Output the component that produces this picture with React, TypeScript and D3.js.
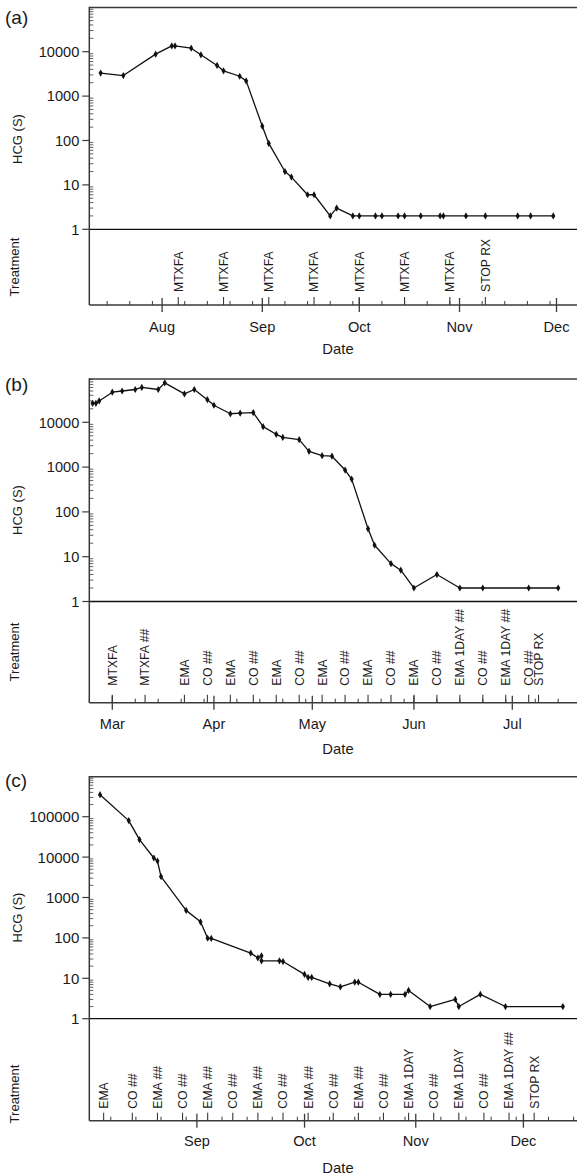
import React from 'react';
import * as d3 from 'd3';

// ---------------- DATA ----------------
// Panel (a)
const panelADates = [
  '2009-07-13', '2009-07-20', '2009-07-30', '2009-08-04', '2009-08-05', '2009-08-10', '2009-08-13',
  '2009-08-18', '2009-08-20', '2009-08-25', '2009-08-27', '2009-09-01', '2009-09-03', '2009-09-08',
  '2009-09-10', '2009-09-15', '2009-09-17', '2009-09-22', '2009-09-24', '2009-09-29', '2009-10-01',
  '2009-10-06', '2009-10-08', '2009-10-13', '2009-10-15', '2009-10-20', '2009-10-26', '2009-10-27',
  '2009-11-03', '2009-11-09', '2009-11-19', '2009-11-23', '2009-11-30',
];
const panelAValues = [
  3300, 2900, 8800, 13500, 13500, 12000, 8500, 4900, 3700, 2800, 2200, 210, 86, 20, 15, 6, 6, 2, 3, 2,
  2, 2, 2, 2, 2, 2, 2, 2, 2, 2, 2, 2, 2,
];
const panelATreatmentDates = [
  '2009-08-06', '2009-08-20', '2009-09-03', '2009-09-17', '2009-10-01', '2009-10-15', '2009-10-29', '2009-11-09',
];
const panelATreatments = ['MTXFA', 'MTXFA', 'MTXFA', 'MTXFA', 'MTXFA', 'MTXFA', 'MTXFA', 'STOP RX'];

// Panel (b)
const panelBDates = [
  '2010-02-23', '2010-02-24', '2010-02-25', '2010-03-01', '2010-03-04', '2010-03-08', '2010-03-10',
  '2010-03-15', '2010-03-17', '2010-03-23', '2010-03-26', '2010-03-30', '2010-04-01', '2010-04-06',
  '2010-04-09', '2010-04-13', '2010-04-16', '2010-04-20', '2010-04-22', '2010-04-27', '2010-04-30',
  '2010-05-04', '2010-05-07', '2010-05-11', '2010-05-13', '2010-05-18', '2010-05-20', '2010-05-25',
  '2010-05-28', '2010-06-01', '2010-06-08', '2010-06-15', '2010-06-22', '2010-07-06', '2010-07-15',
];
const panelBValues = [
  26500, 26500, 30000, 47000, 50000, 54000, 60000, 54000, 76000, 43000, 54000, 32000, 24000, 15500,
  16000, 16500, 8000, 5400, 4600, 4100, 2250, 1800, 1750, 860, 540, 42, 18, 7, 5, 2, 4, 2, 2, 2, 2,
];
const panelBTreatmentDates = [
  '2010-03-01', '2010-03-11', '2010-03-23', '2010-03-30', '2010-04-06', '2010-04-13', '2010-04-20',
  '2010-04-27', '2010-05-04', '2010-05-11', '2010-05-18', '2010-05-25', '2010-06-01', '2010-06-08',
  '2010-06-15', '2010-06-22', '2010-06-29', '2010-07-06', '2010-07-09',
];
const panelBTreatments = [
  'MTXFA', 'MTXFA ##', 'EMA', 'CO ##', 'EMA', 'CO ##', 'EMA', 'CO ##', 'EMA', 'CO ##', 'EMA', 'CO ##',
  'EMA', 'CO ##', 'EMA 1DAY ##', 'CO ##', 'EMA 1DAY ##', 'CO ##', 'STOP RX',
];

// Panel (c)
const panelCDates = [
  '2010-08-05', '2010-08-13', '2010-08-16', '2010-08-20', '2010-08-21', '2010-08-22', '2010-08-29',
  '2010-09-02', '2010-09-04', '2010-09-05', '2010-09-16', '2010-09-18', '2010-09-19', '2010-09-19',
  '2010-09-24', '2010-09-25', '2010-10-01', '2010-10-02', '2010-10-03', '2010-10-08', '2010-10-11',
  '2010-10-15', '2010-10-16', '2010-10-22', '2010-10-25', '2010-10-29', '2010-10-30', '2010-11-05',
  '2010-11-12', '2010-11-13', '2010-11-19', '2010-11-26', '2010-12-12',
];
const panelCValues = [
  350000, 80000, 27000, 9500, 8000, 3300, 480, 250, 98, 97, 42, 32, 36, 27, 27, 26, 12.5, 10.5, 10.5,
  7.3, 6.1, 8, 8, 4, 4, 4, 5, 2, 3, 2, 4, 2, 2,
];
const panelCTreatmentDates = [
  '2010-08-06', '2010-08-14', '2010-08-21', '2010-08-28', '2010-09-04', '2010-09-11', '2010-09-18',
  '2010-09-25', '2010-10-02', '2010-10-09', '2010-10-16', '2010-10-23', '2010-10-30', '2010-11-06',
  '2010-11-13', '2010-11-20', '2010-11-27', '2010-12-04',
];
const panelCTreatments = [
  'EMA', 'CO ##', 'EMA ##', 'CO ##', 'EMA ##', 'CO ##', 'EMA ##', 'CO ##', 'EMA ##', 'CO ##', 'EMA ##',
  'CO ##', 'EMA 1DAY', 'CO ##', 'EMA 1DAY', 'CO ##', 'EMA 1DAY ##', 'STOP RX',
];

const yTicksAB = [1, 10, 100, 1000, 10000];
const yTicksC = [1, 10, 100, 1000, 10000, 100000];
const panelNames = ['(a)', '(b)', '(c)'];
const yAxisTitle = 'HCG (S)';
const treatmentTitle = 'Treatment';
const xAxisTitle = 'Date';

// ---------------- LAYOUT ----------------
const W = 577;
const H = 1176;
const FONT = '"Liberation Sans", Arial, Helvetica, sans-serif';
const PLOT_LEFT = 89.3;
const PLOT_RIGHT = 577;
const parse = d3.timeParse('%Y-%m-%d');
const fmtMonth = d3.timeFormat('%b');
const fmtTick = d3.format('d');

interface Layout {
  top: number;
  yOne: number;
  decadePx: number;
  maxDecade: number;
  axisY: number;
  anchor0: string;
  anchorX0: number;
  anchor1: string;
  anchorX1: number;
  nameY: number;
  hcgY: number;
  treatY: number;
  monthY: number;
  dateY: number;
  textOffset: number;
  tickFont: number;
}

const layouts: Layout[] = [
  {
    top: 7.5, yOne: 229.3, decadePx: 44.4, maxDecade: 5, axisY: 305,
    anchor0: '2009-08-01', anchorX0: 162.1, anchor1: '2009-12-01', anchorX1: 556.5,
    nameY: 24, hcgY: 139, treatY: 267, monthY: 327, dateY: 348.5, textOffset: 13, tickFont: 14.6,
  },
  {
    top: 379, yOne: 601.5, decadePx: 44.8, maxDecade: 5, axisY: 702.7,
    anchor0: '2010-03-01', anchorX0: 112.3, anchor1: '2010-07-01', anchorX1: 512.3,
    nameY: 391, hcgY: 510, treatY: 652, monthY: 723.5, dateY: 748.5, textOffset: 17, tickFont: 14.6,
  },
  {
    top: 776.7, yOne: 1018.7, decadePx: 40.4, maxDecade: 6, axisY: 1120.7,
    anchor0: '2010-09-01', anchorX0: 196.9, anchor1: '2010-12-01', anchorX1: 523.4,
    nameY: 787, hcgY: 917.5, treatY: 1094, monthY: 1140.5, dateY: 1168, textOffset: 12, tickFont: 15,
  },
];

const AXIS_COLOR = '#3a3a3a';
const TEXT_COLOR = '#1a1a1a';

interface PanelProps {
  layout: Layout;
  name: string;
  dates: string[];
  values: number[];
  treatDates: string[];
  treatLabels: string[];
  yTicks: number[];
}

function Panel({ layout: L, name, dates, values, treatDates, treatLabels, yTicks }: PanelProps) {
  const anchorScale = d3
    .scaleTime()
    .domain([parse(L.anchor0)!, parse(L.anchor1)!])
    .range([L.anchorX0, L.anchorX1]);
  const d0 = anchorScale.invert(PLOT_LEFT);
  const d1 = anchorScale.invert(PLOT_RIGHT);
  const x = d3.scaleTime().domain([d0, d1]).range([PLOT_LEFT, PLOT_RIGHT]);

  const y = d3
    .scaleLog()
    .domain([1, 10])
    .range([L.yOne, L.yOne - L.decadePx]);

  const points = dates.map((d, i) => ({ date: parse(d)!, value: values[i] }));
  const line = d3
    .line<{ date: Date; value: number }>()
    .x((d) => x(d.date))
    .y((d) => y(d.value));

  const monthTicks = d3.timeMonth.range(d3.timeDay.ceil(d0), d1);
  const minorTicks = d3.timeDay
    .every(7)!
    .range(d3.timeDay.ceil(d0), d1)
    .filter((d) => d.getDate() !== 1);

  const minorY: number[] = [];
  for (let dec = 0; dec < L.maxDecade; dec++) {
    for (let m = 2; m <= 9; m++) minorY.push(m * Math.pow(10, dec));
  }

  const diamond = d3.symbol().type(d3.symbolDiamond).size(15)()!;

  return (
    <g>
      {/* panel name */}
      <text x={5} y={L.nameY} fontSize={19} fill={TEXT_COLOR} fontFamily={FONT}>
        {name}
      </text>

      {/* frame lines */}
      <line x1={PLOT_LEFT} x2={PLOT_RIGHT} y1={L.top} y2={L.top} stroke={AXIS_COLOR} strokeWidth={1.5} />
      <line x1={PLOT_LEFT} x2={PLOT_RIGHT} y1={L.yOne} y2={L.yOne} stroke="#111" strokeWidth={1.3} />
      <line x1={PLOT_LEFT} x2={PLOT_RIGHT} y1={L.axisY} y2={L.axisY} stroke={AXIS_COLOR} strokeWidth={1.5} />
      <line x1={PLOT_LEFT} x2={PLOT_LEFT} y1={L.top - 0.75} y2={L.axisY} stroke={AXIS_COLOR} strokeWidth={1.5} />

      {/* y ticks */}
      {minorY
        .filter((v) => y(v) > L.top + 0.5)
        .map((v) => (
          <line key={'my' + v} x1={PLOT_LEFT} x2={PLOT_LEFT + 4} y1={y(v)} y2={y(v)} stroke={AXIS_COLOR} strokeWidth={0.8} />
        ))}
      {yTicks.map((v) => (
        <g key={'y' + v}>
          <line x1={PLOT_LEFT - 7} x2={PLOT_LEFT} y1={y(v)} y2={y(v)} stroke={AXIS_COLOR} strokeWidth={1.2} />
          <text
            x={PLOT_LEFT - 10}
            y={y(v)}
            dy="0.36em"
            textAnchor="end"
            fontSize={L.tickFont}
            fill={TEXT_COLOR}
            fontFamily={FONT}
          >
            {fmtTick(v)}
          </text>
        </g>
      ))}

      {/* axis titles */}
      <text
        transform={`translate(17,${L.hcgY}) rotate(-90)`}
        textAnchor="middle"
        dy="0.36em"
        fontSize={13}
        fill={TEXT_COLOR}
        fontFamily={FONT}
      >
        {yAxisTitle}
      </text>
      <text
        transform={`translate(14,${L.treatY}) rotate(-90)`}
        textAnchor="middle"
        dy="0.36em"
        fontSize={13}
        fill={TEXT_COLOR}
        fontFamily={FONT}
      >
        {treatmentTitle}
      </text>
      <text x={338} y={L.dateY} dy="0.36em" textAnchor="middle" fontSize={14.8} fill={TEXT_COLOR} fontFamily={FONT}>
        {xAxisTitle}
      </text>

      {/* x ticks */}
      {minorTicks.map((d) => (
        <line key={'mx' + +d} x1={x(d)} x2={x(d)} y1={L.axisY - 4} y2={L.axisY} stroke={AXIS_COLOR} strokeWidth={1} />
      ))}
      {monthTicks.map((d) => (
        <g key={'M' + +d}>
          <line x1={x(d)} x2={x(d)} y1={L.axisY - 7} y2={L.axisY + 7} stroke={AXIS_COLOR} strokeWidth={1.3} />
          <text x={x(d)} y={L.monthY} dy="0.36em" textAnchor="middle" fontSize={14.6} fill={TEXT_COLOR} fontFamily={FONT}>
            {fmtMonth(d)}
          </text>
        </g>
      ))}

      {/* treatments */}
      {treatDates.map((ds, i) => {
        const tx = x(parse(ds)!);
        return (
          <g key={'t' + i}>
            <line x1={tx} x2={tx} y1={L.axisY - 8} y2={L.axisY} stroke={AXIS_COLOR} strokeWidth={1.1} />
            <text
              transform={`translate(${tx},${L.axisY - L.textOffset}) rotate(-90)`}
              dy="0.36em"
              textAnchor="start"
              fontSize={12.2}
              fill={TEXT_COLOR}
              fontFamily={FONT}
            >
              {treatLabels[i]}
            </text>
          </g>
        );
      })}

      {/* data line */}
      <path d={line(points)!} fill="none" stroke="#111" strokeWidth={1.3} strokeLinejoin="round" />
      {points.map((p, i) => (
        <path key={'p' + i} d={diamond} transform={`translate(${x(p.date)},${y(p.value)})`} fill="#111" />
      ))}
    </g>
  );
}

export default function App() {
  return (
    <svg
      width={W}
      height={H}
      viewBox={`0 0 ${W} ${H}`}
      style={{ position: 'absolute', left: 0, top: 0, display: 'block', background: '#fff' }}
    >
      <rect x={0} y={0} width={W} height={H} fill="#fff" />
      <Panel
        layout={layouts[0]}
        name={panelNames[0]}
        dates={panelADates}
        values={panelAValues}
        treatDates={panelATreatmentDates}
        treatLabels={panelATreatments}
        yTicks={yTicksAB}
      />
      <Panel
        layout={layouts[1]}
        name={panelNames[1]}
        dates={panelBDates}
        values={panelBValues}
        treatDates={panelBTreatmentDates}
        treatLabels={panelBTreatments}
        yTicks={yTicksAB}
      />
      <Panel
        layout={layouts[2]}
        name={panelNames[2]}
        dates={panelCDates}
        values={panelCValues}
        treatDates={panelCTreatmentDates}
        treatLabels={panelCTreatments}
        yTicks={yTicksC}
      />
    </svg>
  );
}
